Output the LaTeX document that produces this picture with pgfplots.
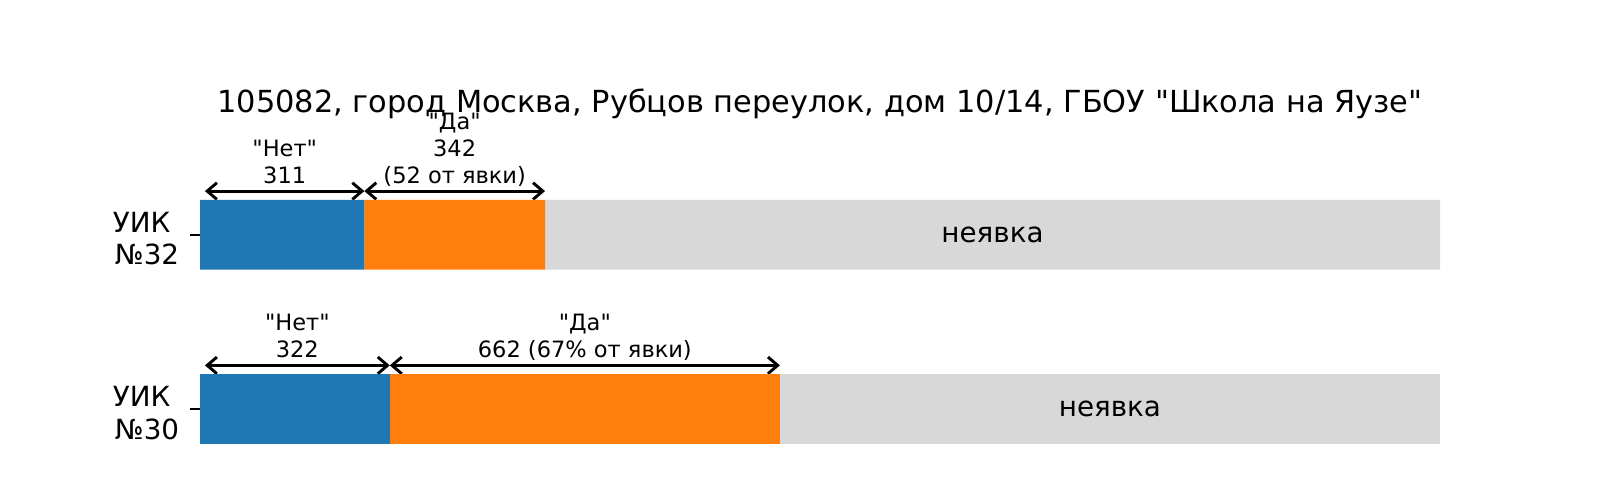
\documentclass[border=0pt]{standalone}
\usepackage{fontspec}
\setmainfont{DejaVu Sans}
\usepackage{pgfplots}
\pgfplotsset{compat=1.18}
\usepackage{pgfplotstable}
\usetikzlibrary{arrows.meta}
\definecolor{cblue}{HTML}{1F77B4}
\definecolor{corange}{HTML}{FF7F0E}
\definecolor{cgray}{HTML}{D8D8D8}
\newcommand{\q}{\textquotedbl}
\tikzset{
  lbl/.style={font=\fontsize{16.2bp}{19bp}\selectfont, anchor=base, inner sep=0pt},
  arr/.style={{Straight Barb[length=7bp,width=12bp]}-{Straight Barb[length=7bp,width=12bp]}, line width=2.1bp, black},
}

% y: row position (1 = top), net/da: votes, total: registered voters
\pgfplotstableread{
y net da total
1 311 342 2347
0 322 662 2104
}\uik

\begin{document}
\begin{tikzpicture}
\path[use as bounding box] (-144bp,-13.5bp) rectangle (1008bp,332.1bp);
\begin{axis}[
  at={(0,0)}, anchor=south west,
  scale only axis, width=892.8bp, height=200.8bp,
  xmin=0, xmax=1, ymin=-0.3, ymax=1.3,
  xbar stacked, bar width=0.4,
  hide x axis,
  axis y line*=left,
  y axis line style={draw=none},
  ytick={0,1},
  yticklabels={{УИК\kern0.318em\\№30},{УИК\kern0.318em\\№32}},
  yticklabel style={align=right, inner sep=0pt, xshift=-7.6bp, yshift=-3bp, font=\fontsize{20bp}{23.3bp}\selectfont},
  tick align=outside, major tick length=7.2bp,
  tick style={black, line width=1.3bp},
  clip=false,
]
\addplot[fill=cblue, draw=none] table[x expr=\thisrow{net}/\thisrow{total}, y=y] {\uik};
\addplot[fill=corange, draw=none] table[x expr=\thisrow{da}/\thisrow{total}, y=y] {\uik};
\addplot[fill=cgray, draw=none] table[x expr=(\thisrow{total}-\thisrow{net}-\thisrow{da})/\thisrow{total}, y=y] {\uik};

% title
\node[anchor=base, inner sep=0pt, font=\fontsize{21.9bp}{26bp}\selectfont] at (axis cs:0.5,1.698)
  {105082, город Москва, Рубцов переулок, дом 10/14, ГБОУ \q Школа на Яузе\q};

% UIK 32
\draw[arr] (axis cs:0.004,1.25) -- (axis cs:0.13251,1.25);
\draw[arr] (axis cs:0.13251,1.25) -- (axis cs:0.27823,1.25);
\node[lbl] at (axis cs:0.0683,1.294) {311};
\node[lbl, yshift=19.4bp] at (axis cs:0.0683,1.294) {\q Нет\q};
\node[lbl] at (axis cs:0.20537,1.294) {(52 от явки)};
\node[lbl, yshift=19.4bp] at (axis cs:0.20537,1.294) {342};
\node[lbl, yshift=38.8bp] at (axis cs:0.20537,1.294) {\q Да\q};
\coordinate (ny1) at (axis cs:0.6391,1);

% UIK 30
\draw[arr] (axis cs:0.004,0.25) -- (axis cs:0.15304,0.25);
\draw[arr] (axis cs:0.15304,0.25) -- (axis cs:0.46768,0.25);
\node[lbl] at (axis cs:0.0785,0.294) {322};
\node[lbl, yshift=19.4bp] at (axis cs:0.0785,0.294) {\q Нет\q};
\node[lbl] at (axis cs:0.31036,0.294) {662 (67\% от явки)};
\node[lbl, yshift=19.4bp] at (axis cs:0.31036,0.294) {\q Да\q};
\coordinate (ny0) at (axis cs:0.7338,0);
\end{axis}
\node[font=\fontsize{20bp}{24bp}\selectfont, inner sep=0pt] at (ny1) {неявка};
\node[font=\fontsize{20bp}{24bp}\selectfont, inner sep=0pt] at (ny0) {неявка};
\end{tikzpicture}
\end{document}
